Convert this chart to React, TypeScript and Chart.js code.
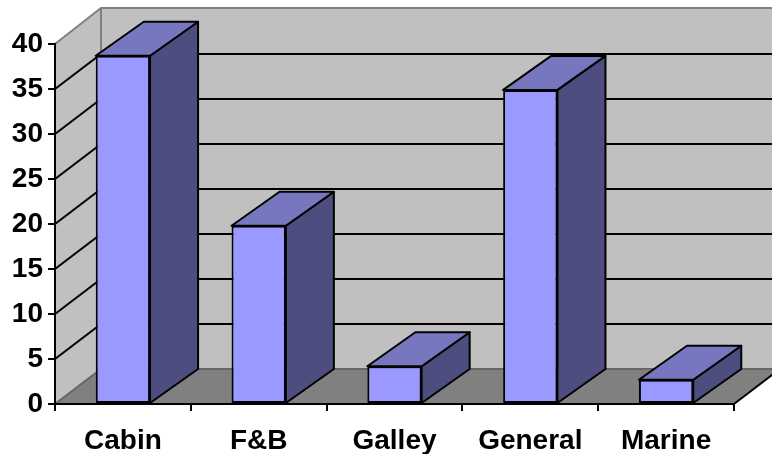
import React, { useEffect, useRef } from "react";
import { Chart, registerables } from "chart.js";

Chart.register(...registerables);

const categories = ["Cabin", "F&B", "Galley", "General", "Marine"];
const counts = [38.7, 19.8, 4.2, 34.9, 2.7];
const yTicks = [0, 5, 10, 15, 20, 25, 30, 35, 40];

const FONT = '"Liberation Sans", Arial, sans-serif';
const WALL_DX = 46;
const WALL_DY = 35;
const BAR_DX = 48;
const BAR_DY = 34;

function poly(ctx: CanvasRenderingContext2D, pts: number[][], fill: string | null, stroke: string | null, lw = 2) {
  ctx.beginPath();
  pts.forEach(([x, y], i) => (i ? ctx.lineTo(x, y) : ctx.moveTo(x, y)));
  ctx.closePath();
  if (fill) {
    ctx.fillStyle = fill;
    ctx.fill();
  }
  if (stroke) {
    ctx.strokeStyle = stroke;
    ctx.lineWidth = lw;
    ctx.lineJoin = "round";
    ctx.stroke();
  }
}

// Pseudo-3D room behind the plot: side wall, back wall, floor and gridlines.
const roomPlugin = {
  id: "room",
  beforeDraw(chart: any) {
    const { ctx, scales } = chart;
    const y = scales.y;
    const x = scales.x;
    const left = x.left;
    const right = x.right;
    const y0 = y.getPixelForValue(0);
    const yTop = y.getPixelForValue(40);
    const far = right + WALL_DX;
    ctx.save();
    poly(ctx, [[left, yTop], [left + WALL_DX, yTop - WALL_DY - 1], [left + WALL_DX, y0 - WALL_DY], [left, y0]], "#c0c0c0", null);
    ctx.fillStyle = "#c0c0c0";
    ctx.fillRect(left + WALL_DX, yTop - WALL_DY - 1, far - left - WALL_DX, y0 - yTop + 1);
    poly(ctx, [[left, y0], [left + WALL_DX, y0 - WALL_DY], [far, y0 - WALL_DY], [right, y0]], "#808080", null);

    // Wall edges
    ctx.strokeStyle = "#808080";
    ctx.lineWidth = 2;
    ctx.beginPath();
    ctx.moveTo(left, yTop);
    ctx.lineTo(left + WALL_DX, yTop - WALL_DY - 1);
    ctx.lineTo(far, yTop - WALL_DY - 1);
    ctx.moveTo(left + WALL_DX, yTop - WALL_DY - 1);
    ctx.lineTo(left + WALL_DX, y0 - WALL_DY);
    ctx.stroke();

    // Gridlines run along the side wall, then across the back wall
    for (const t of y.ticks) {
      if (t.value === 40) continue;
      const py = y.getPixelForValue(t.value);
      ctx.strokeStyle = t.value === 0 ? "#666666" : "#000000";
      ctx.lineWidth = 2;
      ctx.beginPath();
      ctx.moveTo(left, py);
      ctx.lineTo(left + WALL_DX, py - WALL_DY);
      ctx.lineTo(far, py - WALL_DY);
      ctx.stroke();
    }

    // Right-hand edge of the floor
    ctx.strokeStyle = "#000000";
    ctx.beginPath();
    ctx.moveTo(right, y0);
    ctx.lineTo(far, y0 - WALL_DY);
    ctx.stroke();
    ctx.restore();
  },
  // Side and top faces extruded from each bar element
  beforeDatasetsDraw(chart: any) {
    const { ctx } = chart;
    ctx.save();
    for (const bar of chart.getDatasetMeta(0).data) {
      const { x, y, base, width } = bar.getProps(["x", "y", "base", "width"], true);
      const l = x - width / 2;
      const r = x + width / 2;
      poly(ctx, [[r, y], [r + BAR_DX, y - BAR_DY], [r + BAR_DX, base - BAR_DY], [r, base]], "#4d4d80", "#000000");
      poly(ctx, [[l, y], [l + BAR_DX, y - BAR_DY], [r + BAR_DX, y - BAR_DY], [r, y]], "#7777bf", "#000000");
    }
    ctx.restore();
  },
};

export default function App() {
  const ref = useRef<HTMLCanvasElement>(null);
  useEffect(() => {
    const chart = new Chart(ref.current!, {
      type: "bar",
      data: {
        labels: categories,
        datasets: [
          {
            data: counts,
            backgroundColor: "#9999ff",
            borderColor: "#000000",
            borderWidth: 2,
            borderSkipped: false,
            barPercentage: 0.8,
            categoryPercentage: 0.5,
          },
        ],
      },
      options: {
        responsive: false,
        animation: false,
        layout: { padding: { top: 44, right: 38, left: 0, bottom: 0 } },
        plugins: { legend: { display: false }, tooltip: { enabled: false } },
        scales: {
          x: {
            grid: { offset: true, drawOnChartArea: false, color: "#000000", lineWidth: 2, tickLength: 7 },
            border: { color: "#000000", width: 2 },
            ticks: {
              color: "#000000",
              font: { family: FONT, size: 28, weight: "bold" },
              padding: 13,
              maxRotation: 0,
              autoSkip: false,
            },
            afterFit(scale: any) {
              scale.height = 50;
            },
          },
          y: {
            min: 0,
            max: 40,
            afterBuildTicks(scale: any) {
              scale.ticks = yTicks.map((value) => ({ value }));
            },
            grid: { drawOnChartArea: false, color: "#000000", lineWidth: 2, tickLength: 7 },
            border: { color: "#000000", width: 2 },
            ticks: {
              color: "#000000",
              font: { family: FONT, size: 28, weight: "bold" },
              padding: 5,
            },
            afterFit(scale: any) {
              scale.width = 55;
            },
          },
        },
      },
      plugins: [roomPlugin],
    } as any);
    return () => chart.destroy();
  }, []);
  return (
    <div style={{ position: "absolute", left: 0, top: 0, width: 772, height: 454, background: "#ffffff", overflow: "hidden" }}>
      <canvas ref={ref} width={772} height={454} style={{ display: "block" }} />
    </div>
  );
}
